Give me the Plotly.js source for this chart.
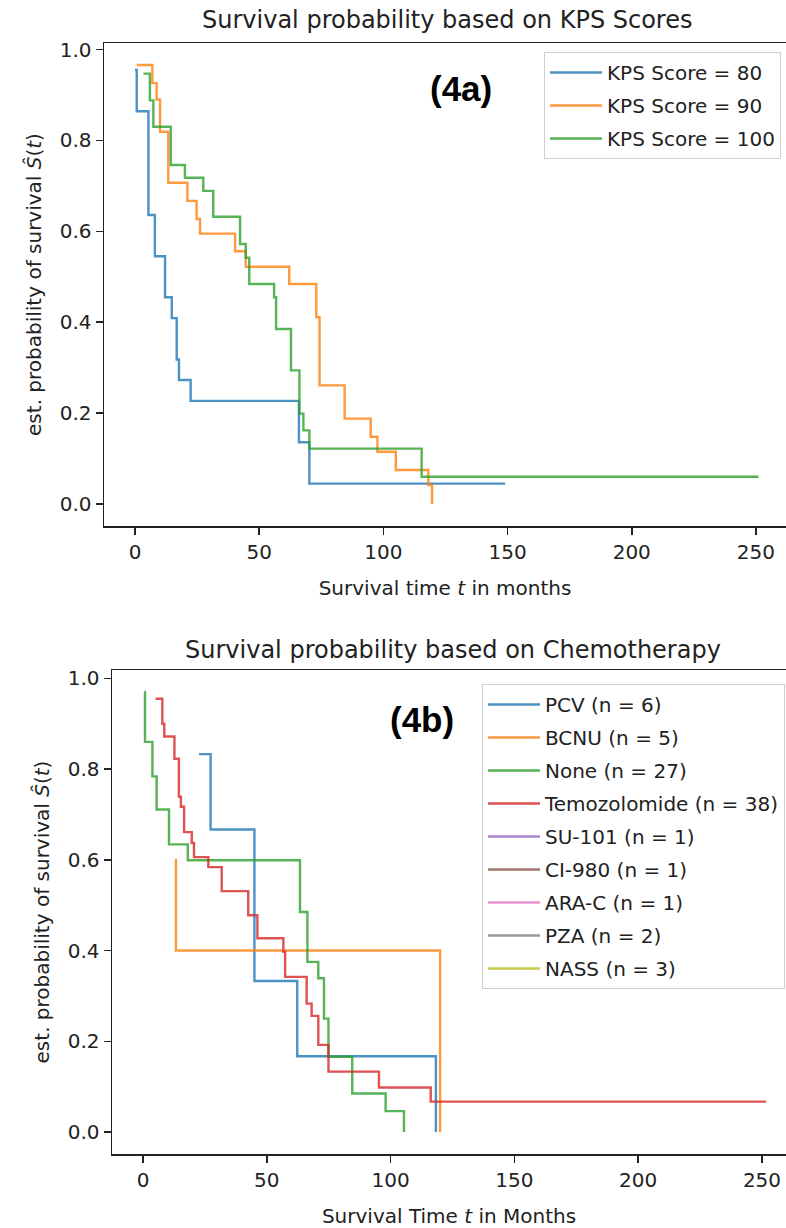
<!DOCTYPE html>
<html>
<head>
<meta charset="utf-8">
<script src="https://cdn.plot.ly/plotly-3.0.1.min.js"></script>
<style>
html,body{margin:0;padding:0;background:#ffffff;}
#chart{width:786px;height:1228px;}
</style>
</head>
<body>
<div id="chart"></div>
<script>
// ---------- Figure 4a: KPS scores ----------
const kpsNames = ["KPS Score = 80", "KPS Score = 90", "KPS Score = 100"];
const kps80Time = [0, 0.7, 5.4, 8.0, 12.1, 14.8, 16.8, 17.7, 22.4, 66.0, 70.2, 149.0];
const kps80Surv = [0.955, 0.864, 0.636, 0.545, 0.455, 0.409, 0.318, 0.273, 0.227, 0.136, 0.045, 0.045];
const kps90Time = [0.7, 7.0, 8.7, 10.1, 13.4, 21.1, 24.8, 26.2, 40.3, 44.6, 62.1, 73.0, 74.3, 84.4, 94.9, 97.6, 105.0, 118.1, 119.6];
const kps90Surv = [0.966, 0.926, 0.890, 0.819, 0.707, 0.667, 0.627, 0.595, 0.556, 0.522, 0.484, 0.411, 0.261, 0.188, 0.148, 0.115, 0.075, 0.042, 0.0];
const kps100Time = [3.4, 6.0, 7.4, 14.4, 20.1, 27.5, 31.5, 42.3, 44.6, 46.0, 56.0, 56.8, 62.8, 66.2, 67.8, 70.2, 115.4, 251.0];
const kps100Surv = [0.947, 0.888, 0.830, 0.746, 0.718, 0.689, 0.632, 0.572, 0.542, 0.484, 0.455, 0.385, 0.294, 0.199, 0.162, 0.122, 0.060, 0.060];

// ---------- Figure 4b: Chemotherapy ----------
const chemoNames = ["PCV (n = 6)", "BCNU (n = 5)", "None (n = 27)", "Temozolomide (n = 38)",
                    "SU-101 (n = 1)", "CI-980 (n = 1)", "ARA-C (n = 1)", "PZA (n = 2)", "NASS (n = 3)"];
const pcvTime = [22.6, 27.3, 45.0, 62.3, 118.3];
const pcvSurv = [0.833, 0.667, 0.333, 0.167, 0.0];
const bcnuTime = [12.9, 13.3, 120.0];
const bcnuSurv = [0.6, 0.4, 0.0];
const noneTime = [0.5, 0.8, 3.8, 5.5, 10.5, 18.1, 63.4, 66.4, 70.8, 73.1, 74.9, 84.5, 98.0, 105.4];
const noneSurv = [0.970, 0.860, 0.784, 0.711, 0.634, 0.599, 0.485, 0.375, 0.339, 0.250, 0.166, 0.085, 0.046, 0.0];
const temoTime = [5.1, 7.8, 8.6, 12.7, 14.5, 15.3, 16.6, 19.7, 20.6, 26.4, 31.8, 42.5, 46.2, 56.7, 57.4, 66.1, 68.1, 70.8, 74.9, 95.3, 116.2, 251.6];
const temoSurv = [0.955, 0.900, 0.872, 0.823, 0.739, 0.717, 0.661, 0.637, 0.606, 0.584, 0.531, 0.478, 0.427, 0.397, 0.342, 0.283, 0.256, 0.192, 0.133, 0.098, 0.067, 0.067];
// groups with no visible step (single / censored observations)
const su101Time = [null], su101Surv = [null];
const ci980Time = [null], ci980Surv = [null];
const aracTime = [null], aracSurv = [null];
const pzaTime = [null], pzaSurv = [null];
const nassTime = [null], nassSurv = [null];

const xTicks = [0, 50, 100, 150, 200, 250];
const yTicks = [0, 0.2, 0.4, 0.6, 0.8, 1.0];

const tab10 = ["31,119,180", "255,127,14", "44,160,44", "214,39,40", "148,103,189",
               "140,86,75", "227,119,194", "127,127,127", "188,189,34"];
const FONT = "DejaVu Sans, sans-serif";

function stepTrace(x, y, name, ci, xa, ya, leg) {
  return {
    x: x, y: y, name: name, type: "scatter", mode: "lines",
    line: {shape: "hv", color: "rgba(" + tab10[ci] + ",0.8)", width: 2.4},
    xaxis: xa, yaxis: ya, legend: leg, legendgroup: leg + "_" + ci,
    hoverinfo: "skip"
  };
}

const data = [
  stepTrace(kps80Time, kps80Surv, kpsNames[0], 0, "x", "y", "legend"),
  stepTrace(kps90Time, kps90Surv, kpsNames[1], 1, "x", "y", "legend"),
  stepTrace(kps100Time, kps100Surv, kpsNames[2], 2, "x", "y", "legend"),
  stepTrace(pcvTime, pcvSurv, chemoNames[0], 0, "x2", "y2", "legend2"),
  stepTrace(bcnuTime, bcnuSurv, chemoNames[1], 1, "x2", "y2", "legend2"),
  stepTrace(noneTime, noneSurv, chemoNames[2], 2, "x2", "y2", "legend2"),
  stepTrace(temoTime, temoSurv, chemoNames[3], 3, "x2", "y2", "legend2"),
  stepTrace(su101Time, su101Surv, chemoNames[4], 4, "x2", "y2", "legend2"),
  stepTrace(ci980Time, ci980Surv, chemoNames[5], 5, "x2", "y2", "legend2"),
  stepTrace(aracTime, aracSurv, chemoNames[6], 6, "x2", "y2", "legend2"),
  stepTrace(pzaTime, pzaSurv, chemoNames[7], 7, "x2", "y2", "legend2"),
  stepTrace(nassTime, nassSurv, chemoNames[8], 8, "x2", "y2", "legend2")
];

const W = 786, H = 1228;
const px = v => v / W;
const py = v => 1 - v / H;

function xAxis(dom, rng, anchor, title) {
  return {
    domain: dom, range: rng, anchor: anchor, tickvals: xTicks, ticktext: xTicks.map(String),
    ticks: "outside", ticklen: 7, tickwidth: 1.5, tickcolor: "#222",
    showline: true, linecolor: "#222", linewidth: 1.5, mirror: true,
    showgrid: false, zeroline: false, tickfont: {family: FONT, size: 20, color: "#222"},
    title: {text: title, font: {family: FONT, size: 20, color: "#222"}, standoff: 18},
    fixedrange: true
  };
}
function yAxis(dom, rng, anchor, title) {
  return {
    domain: dom, range: rng, anchor: anchor, tickvals: yTicks, ticktext: yTicks.map(v => v.toFixed(1)),
    ticks: "outside", ticklen: 7, tickwidth: 1.5, tickcolor: "#222",
    showline: true, linecolor: "#222", linewidth: 1.5, mirror: false,
    showgrid: false, zeroline: false, tickfont: {family: FONT, size: 20, color: "#222"},
    title: {text: title, font: {family: FONT, size: 20, color: "#222"}, standoff: 12},
    fixedrange: true
  };
}

const legendBase = {
  bgcolor: "rgba(255,255,255,0.8)", bordercolor: "#d0d0d0", borderwidth: 1,
  font: {family: FONT, size: 20, color: "#222"}, traceorder: "grouped", tracegroupgap: 4,
  itemwidth: 52,
  xanchor: "right", yanchor: "top", itemclick: false, itemdoubleclick: false
};

const layout = {
  width: W, height: H,
  margin: {l: 0, r: 0, t: 0, b: 0},
  paper_bgcolor: "#ffffff", plot_bgcolor: "#ffffff",
  showlegend: true,
  xaxis: xAxis([px(104), 1], [-12.48, 262.1], "y", "Survival time <i>t</i> in months"),
  yaxis: yAxis([py(526), py(43)], [-0.0483, 1.0143], "x", "est. probability of survival <i>Ŝ</i>(<i>t</i>)"),
  xaxis2: xAxis([px(112), 1], [-12.52, 259.7], "y2", "Survival Time <i>t</i> in Months"),
  yaxis2: yAxis([py(1154), py(670)], [-0.0485, 1.0185], "x2", "est. probability of survival <i>Ŝ</i>(<i>t</i>)"),
  legend: Object.assign({}, legendBase, {x: px(781), y: py(52)}),
  legend2: Object.assign({}, legendBase, {x: px(785), y: py(684)}),
  annotations: [
    {text: "Survival probability based on KPS Scores", xref: "paper", yref: "paper",
     x: px(447), y: py(20), xanchor: "center", yanchor: "middle", showarrow: false,
     font: {family: FONT, size: 24, color: "#222"}},
    {text: "Survival probability based on Chemotherapy", xref: "paper", yref: "paper",
     x: px(453), y: py(650), xanchor: "center", yanchor: "middle", showarrow: false,
     font: {family: FONT, size: 24, color: "#222"}},
    {text: "<b>(4a)</b>", xref: "paper", yref: "paper", x: px(461), y: py(88),
     xanchor: "center", yanchor: "middle", showarrow: false,
     font: {family: "Liberation Sans, Arial, sans-serif", size: 35, color: "#000"}},
    {text: "<b>(4b)</b>", xref: "paper", yref: "paper", x: px(422), y: py(719),
     xanchor: "center", yanchor: "middle", showarrow: false,
     font: {family: "Liberation Sans, Arial, sans-serif", size: 35, color: "#000"}}
  ]
};

Plotly.newPlot("chart", data, layout, {staticPlot: true, displayModeBar: false});
</script>
</body>
</html>
